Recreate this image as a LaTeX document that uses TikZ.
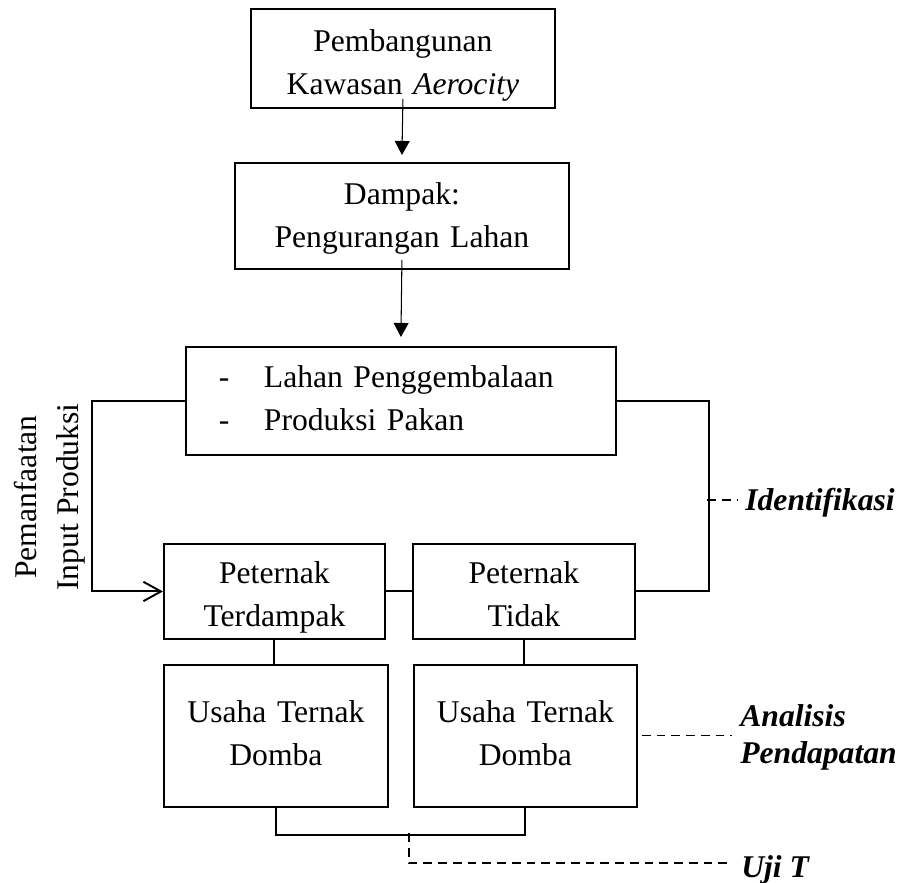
\documentclass[tikz,border=0pt]{standalone}
\usepackage{fontspec}
\setmainfont{Liberation Serif}
\usepackage{tikz}
\usetikzlibrary{arrows.meta,positioning}

\tikzset{
	every node/.append style={font=\fontsize{18}{24}\selectfont},
	box/.style = {
			draw,
			line width = 1.1pt,
			inner sep  = 0pt,
			align      = center,
		},
	arr/.style  = {-{Triangle[length=8pt,width=8.5pt]}, line width=0.6pt},
	conn/.style = {line width=1.1pt},
	dsh/.style  = {dash pattern=on 5pt off 3.4pt, line width=0.6pt},
	lbl/.style  = {
			font       = \fontsize{18}{21}\selectfont\bfseries\itshape,
			inner xsep = 0.16cm,
			inner ysep = 0pt,
			align      = left,
		},
}

\begin{document}
\begin{tikzpicture}[x=0.02cm,y=-0.02cm]
	\useasboundingbox (0,0) rectangle (904,883);
	% Flow
	\node[box,anchor=north west,text width=6.08cm,text height=0.86cm,text depth=1.12cm]
	(Pembangunan) at (250,8) {Pembangunan\\Kawasan \textit{Aerocity}};
	\node[box,anchor=north west,text width=6.68cm,text height=0.84cm,text depth=1.28cm]
	(Dampak) at (234,162) {Dampak:\\Pengurangan Lahan};
	\node[box,anchor=north west,text width=8.6cm,text height=0.82cm,text depth=1.34cm,align=left]
	(Lahan) at (185,346) {\hspace*{0.66cm}\makebox[0.9cm][l]{-}Lahan Penggembalaan\\
		\hspace*{0.66cm}\makebox[0.9cm][l]{-}Produksi Pakan};

	\node[box,anchor=north west,text width=4.42cm,text height=0.8cm,text depth=1.1cm]
	(Terdampak) at (163,543) {Peternak\\Terdampak};
	\node[box,anchor=north west,text width=4.44cm,text height=0.8cm,text depth=1.1cm]
	(Tidak) at (412,543) {Peternak\\Tidak};

	\node[box,anchor=north west,text width=4.48cm,text height=1.16cm,text depth=1.68cm]
	(Usaha1) at (163,664) {Usaha Ternak\\Domba};
	\node[box,anchor=north west,text width=4.46cm,text height=1.16cm,text depth=1.68cm]
	(Usaha2) at (413,664) {Usaha Ternak\\Domba};

	% Labels
	\node[rotate=90,align=center,inner sep=0pt] (Pemanfaatan) at (50,497)
	{Pemanfaatan\\Input Produksi};
	\node[lbl,anchor=base west] (Identifikasi) at (737,510) {Identifikasi};
	\node[lbl,anchor=base west] (Analisis) at (732,763) {Analisis\\Pendapatan};
	\node[lbl,anchor=base west] (Uji) at (733,877) {Uji T};

	\coordinate (IdJoint) at (707,500);
	\coordinate (UjiJoint) at (409,833);

	\draw[arr] ([yshift=0.2cm]Pembangunan.south) to ([yshift=0.14cm]Dampak.north);
	\draw[arr] ([yshift=0.2cm]Dampak.south) to ([yshift=0.18cm]Lahan.north);
	\draw[conn,-{Straight Barb[length=10pt,width=11pt]}] (Lahan.west) -- ++(-93,0) |- (Terdampak.west);
	\draw[conn] (Lahan.east) -- ++(92,0) |- (Tidak.east);
	\draw[conn] (Terdampak.east) -- (Tidak.west);
	\draw[conn] (Terdampak.south) -- (Terdampak.south |- Usaha1.north);
	\draw[conn] (Tidak.south) -- (Tidak.south |- Usaha2.north);
	\draw[conn] (Usaha1.south) -- ++(0,27) -| (Usaha2.south);
	\draw[dsh] (IdJoint) -- (IdJoint -| Identifikasi.west);
	\draw[dsh] ([xshift=0.08cm]Usaha2.east) -- (Analisis.west |- Usaha2.east);
	\draw[dsh] (UjiJoint) |- ([yshift=0.28cm]Uji.base west);
\end{tikzpicture}
\end{document}
